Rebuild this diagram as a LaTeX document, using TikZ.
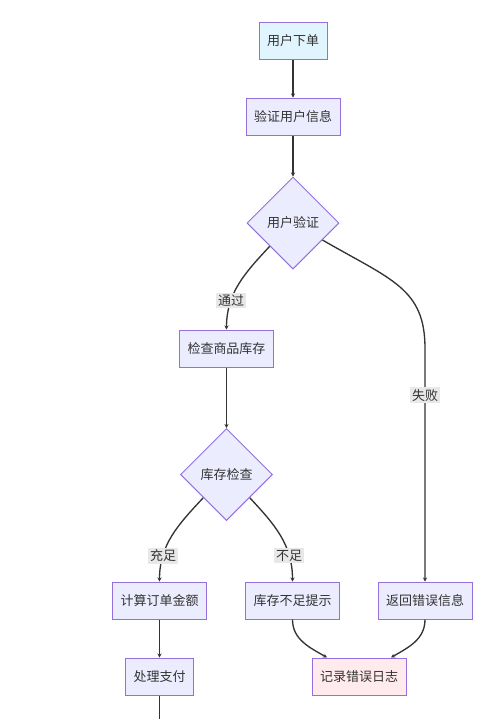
\documentclass[tikz,border=0pt]{standalone}
\usepackage{fontspec}
\newfontfamily\cjk{Noto Sans CJK SC}
\usepackage{xcolor}
\usepackage{tikz}
\usetikzlibrary{positioning,shapes.geometric,arrows.meta}
\definecolor{nodefill}{HTML}{ECECFF}
\definecolor{nodeline}{HTML}{9370DB}
\definecolor{startfill}{HTML}{E1F5FE}
\definecolor{errfill}{HTML}{FFEBEE}
\definecolor{edgeline}{HTML}{333333}
\definecolor{lblfill}{HTML}{E8E8E8}

\begin{document}
\begin{tikzpicture}[
  x=0.75pt, y=-0.75pt,
  box/.style={draw=nodeline, fill=nodefill, line width=0.75pt, text=edgeline, align=center, inner xsep=6pt, minimum height=27.75pt, font=\cjk\fontsize{9.75}{12}\selectfont},
  choice/.style={diamond, aspect=1, draw=nodeline, fill=nodefill, line width=0.75pt, text=edgeline, minimum width=69pt, minimum height=69pt, inner sep=0pt, font=\cjk\fontsize{9.75}{12}\selectfont},
  arrow/.style={-{Stealth[length=3pt,width=3pt]}, draw=edgeline, line width=1pt},
  label/.style={font=\cjk\fontsize{9.75}{12}\selectfont, text=edgeline, fill=lblfill, inner sep=1.5pt}
]
\useasboundingbox (0,0) rectangle (488,719);
\node[box, fill=startfill] (order) at (293,40.5) {用户下单};
\node[box] (verify) at (293,116.5) {验证用户信息};
\node[choice] (auth) at (293,223) {用户验证};
\node[box] (check) at (226.5,348.5) {检查商品库存};
\node[choice] (stock) at (226.5,474.5) {库存检查};
\node[box] (calc) at (159.5,600.5) {计算订单金额};
\node[box] (low) at (292.5,600.5) {库存不足提示};
\node[box] (ret) at (425,600.5) {返回错误信息};
\node[box] (pay) at (159.5,676.5) {处理支付};
\node[box, fill=errfill] (log) at (359,676.5) {记录错误日志};
\coordinate (next) at (159.5,719);
\draw[arrow] (order) -- (verify);
\draw[arrow] (verify) -- (auth);
\draw[arrow] (auth.south west) to[out=-133,in=90] node[pos=0.7,label]{通过} (check.north);
\draw[arrow] (auth.-30) .. controls +(-30:60pt) and +(0,45pt) .. (ret.north |- check.center) -- node[pos=0.2,label]{失败} (ret.north);
\draw[arrow] (check) -- (stock);
\draw[arrow] (stock.south west) to[out=-133,in=90] node[pos=0.74,label]{充足} (calc.north);
\draw[arrow] (stock.south east) to[out=-47,in=90] node[pos=0.74,label]{不足} (low.north);
\draw[arrow] (calc) -- (pay);
\draw[arrow] (low.south) to[out=-90,in=150] ([xshift=-24pt]log.north);
\draw[arrow] (ret.south) to[out=-90,in=30] ([xshift=24pt]log.north);
\draw[draw=edgeline, line width=1pt] (pay.south) -- (next);
\end{tikzpicture}
\end{document}
